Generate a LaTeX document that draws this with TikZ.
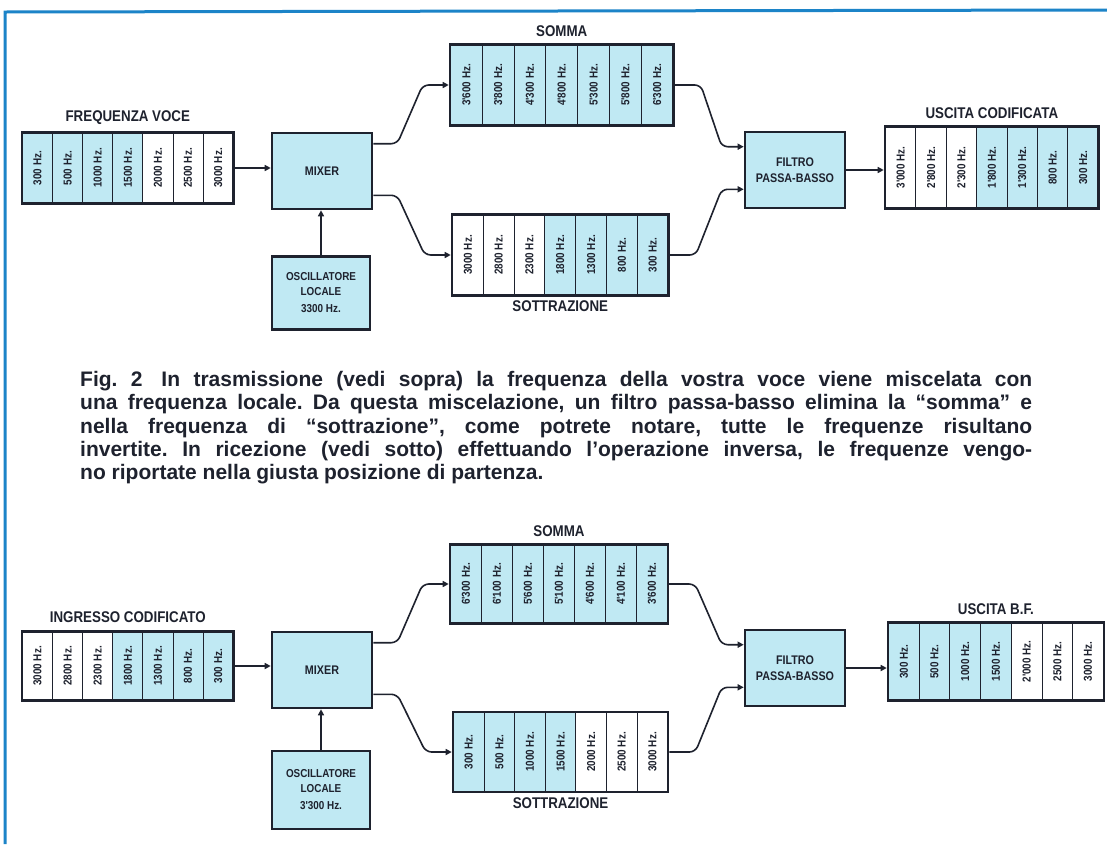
\documentclass[tikz,border=0pt]{standalone}
\usepackage{fontspec}
\setmainfont{Liberation Sans}
\newfontfamily\narrowfont{Liberation Sans}[FakeStretch=0.86]
\usetikzlibrary{positioning,fit,arrows.meta}

\definecolor{cellblue}{RGB}{192,233,243}
\definecolor{inkcol}{RGB}{30,34,46}
\definecolor{framecol}{RGB}{28,132,200}

\tikzset{
  cell/.style={draw=inkcol, line width=0.9pt, inner sep=0pt, anchor=west, text=inkcol,
    font=\narrowfont\bfseries\fontsize{11.5}{12}\selectfont},
  frame/.style={draw=inkcol, line width=2.6pt, inner sep=0pt},
  title/.style={inner sep=0pt, text=inkcol, font=\narrowfont\bfseries\fontsize{15.5}{16}\selectfont},
  box/.style={draw=inkcol, line width=2.6pt, fill=cellblue, align=center, inner sep=0pt, text=inkcol,
    minimum width=100pt, minimum height=76pt, font=\narrowfont\bfseries\fontsize{12.5}{16}\selectfont},
  conn/.style={draw=inkcol, line width=1.6pt, rounded corners=6pt, -{Triangle[length=6pt,width=6pt]}},
  caption/.style={inner sep=0pt, text width=952pt, align=justify, text=inkcol,
    font=\frenchspacing\bfseries\fontsize{21}{23.3}\selectfont}
}

\begin{document}
\begin{tikzpicture}[x=1pt,y=-1pt]
\useasboundingbox (0,0) rectangle (1107,844);
\fill[white] (0,0) rectangle (1107,844);
\draw[framecol, line width=3pt] (5,844) -- (5,12) -- (1107,10);

% trasmissione
\begin{scope}
  \foreach \f/\c [count=\i] in {300 Hz./cellblue, 500 Hz./cellblue, 1000 Hz./cellblue, 1500 Hz./cellblue,
      2000 Hz./white, 2500 Hz./white, 3000 Hz./white}
    \node[cell, fill=\c, minimum width=30.1pt, minimum height=70pt] (tin\i) at ({22+(\i-1)*30.1},168) {\rotatebox{90}{\f}};
  \node[frame, fit=(tin1)(tin7)] (tin) {};
  \node[title, above=7pt of tin] {FREQUENZA VOCE};

  \node[box] (tmix) at (322,171) {MIXER};
  \node[box, minimum width=98pt, minimum height=73pt, font=\narrowfont\bfseries\fontsize{11.5}{15}\selectfont] (tosc) at (321,293) {OSCILLATORE\\LOCALE\\[2pt]3300 Hz.};

  \foreach \f [count=\i] in {3'600 Hz., 3'800 Hz., 4'300 Hz., 4'800 Hz., 5'300 Hz., 5'800 Hz., 6'300 Hz.}
    \node[cell, fill=cellblue, minimum width=31.8pt, minimum height=80pt] (tsom\i) at ({450+(\i-1)*31.8},85) {\rotatebox{90}{\f}};
  \node[frame, fit=(tsom1)(tsom7)] (tsom) {};
  \node[title, above=6pt of tsom] {SOMMA};

  \foreach \f/\c [count=\i] in {3000 Hz./white, 2800 Hz./white, 2300 Hz./white, 1800 Hz./cellblue,
      1300 Hz./cellblue, 800 Hz./cellblue, 300 Hz./cellblue}
    \node[cell, fill=\c, minimum width=30.8pt, minimum height=80pt] (tsot\i) at ({452+(\i-1)*30.8},255) {\rotatebox{90}{\f}};
  \node[frame, fit=(tsot1)(tsot7)] (tsot) {};
  \node[title, below=4pt of tsot] {SOTTRAZIONE};

  \node[box] (tfil) at (795,170) {FILTRO\\PASSA-BASSO};

  \foreach \f/\c [count=\i] in {3'000 Hz./white, 2'800 Hz./white, 2'300 Hz./white, 1'800 Hz./cellblue,
      1'300 Hz./cellblue, 800 Hz./cellblue, 300 Hz./cellblue}
    \node[cell, fill=\c, minimum width=30.4pt, minimum height=81pt] (tout\i) at ({885+(\i-1)*30.4},167.5) {\rotatebox{90}{\f}};
  \node[frame, fit=(tout1)(tout7)] (tout) {};
  \node[title, above=6pt of tout] {USCITA CODIFICATA};

  \draw[conn] (tin.east) -- (tin.east -| tmix.west);
  \draw[conn] (tosc.north) -- (tosc.north |- tmix.south);
  \draw[conn] ([yshift=-12pt]tmix.north east) -- ++(24,0) -- ([xshift=-26pt]tsom.west) -- (tsom.west);
  \draw[conn] ([yshift=15pt]tmix.south east) -- ++(24,0) -- ([xshift=-26pt]tsot.west) -- (tsot.west);
  \draw[conn] (tsom.east) -- ++(26,0) -- ([xshift=-22pt,yshift=-16pt]tfil.north west) -- ([yshift=-16pt]tfil.north west);
  \draw[conn] (tsot.east) -- ++(26,0) -- ([xshift=-22pt,yshift=20pt]tfil.south west) -- ([yshift=20pt]tfil.south west);
  \draw[conn] (tfil.east) -- (tfil.east -| tout.west);
\end{scope}

\node[caption, anchor=north west] (cap) at (80,371) {Fig. 2\hspace{0.9em}In trasmissione (vedi sopra) la frequenza della vostra voce viene miscelata con\linebreak
una frequenza locale. Da questa miscelazione, un filtro passa-basso elimina la “somma” e\linebreak
nella frequenza di “sottrazione”, come potrete notare, tutte le frequenze risultano\linebreak
invertite. In ricezione (vedi sotto) effettuando l’operazione inversa, le frequenze vengo-\linebreak
no riportate nella giusta posizione di partenza.};

% ricezione
\begin{scope}
  \foreach \f/\c [count=\i] in {3000 Hz./white, 2800 Hz./white, 2300 Hz./white, 1800 Hz./cellblue,
      1300 Hz./cellblue, 800 Hz./cellblue, 300 Hz./cellblue}
    \node[cell, fill=\c, minimum width=30.1pt, minimum height=68pt] (bin\i) at ({22+(\i-1)*30.1},666) {\rotatebox{90}{\f}};
  \node[frame, fit=(bin1)(bin7)] (bin) {};
  \node[title, above=7pt of bin] {INGRESSO CODIFICATO};

  \node[box] (bmix) at (322,670) {MIXER};
  \node[box, minimum width=98pt, minimum height=78pt, font=\narrowfont\bfseries\fontsize{11.5}{15}\selectfont] (bosc) at (321,790) {OSCILLATORE\\LOCALE\\[2pt]3'300 Hz.};

  \foreach \f [count=\i] in {6'300 Hz., 6'100 Hz., 5'600 Hz., 5'100 Hz., 4'600 Hz., 4'100 Hz., 3'600 Hz.}
    \node[cell, fill=cellblue, minimum width=31pt, minimum height=78pt] (bsom\i) at ({450+(\i-1)*31},584) {\rotatebox{90}{\f}};
  \node[frame, fit=(bsom1)(bsom7)] (bsom) {};
  \node[title, above=6pt of bsom] {SOMMA};

  \foreach \f/\c [count=\i] in {300 Hz./cellblue, 500 Hz./cellblue, 1000 Hz./cellblue, 1500 Hz./cellblue,
      2000 Hz./white, 2500 Hz./white, 3000 Hz./white}
    \node[cell, fill=\c, minimum width=30.6pt, minimum height=79pt] (bsot\i) at ({453+(\i-1)*30.6},752) {\rotatebox{90}{\f}};
  \node[frame, fit=(bsot1)(bsot7)] (bsot) {};
  \node[title, below=4pt of bsot] {SOTTRAZIONE};

  \node[box] (bfil) at (795,668) {FILTRO\\PASSA-BASSO};

  \foreach \f/\c [count=\i] in {300 Hz./cellblue, 500 Hz./cellblue, 1000 Hz./cellblue, 1500 Hz./cellblue,
      2'000 Hz./white, 2500 Hz./white, 3000 Hz./white}
    \node[cell, fill=\c, minimum width=30.7pt, minimum height=77pt] (bout\i) at ({888+(\i-1)*30.7},661.5) {\rotatebox{90}{\f}};
  \node[frame, fit=(bout1)(bout7)] (bout) {};
  \node[title, above=6pt of bout] {USCITA B.F.};

  \draw[conn] (bin.east) -- (bin.east -| bmix.west);
  \draw[conn] (bosc.north) -- (bosc.north |- bmix.south);
  \draw[conn] ([yshift=-12pt]bmix.north east) -- ++(24,0) -- ([xshift=-26pt]bsom.west) -- (bsom.west);
  \draw[conn] ([yshift=15pt]bmix.south east) -- ++(24,0) -- ([xshift=-26pt]bsot.west) -- (bsot.west);
  \draw[conn] (bsom.east) -- ++(26,0) -- ([xshift=-22pt,yshift=-16pt]bfil.north west) -- ([yshift=-16pt]bfil.north west);
  \draw[conn] (bsot.east) -- ++(26,0) -- ([xshift=-22pt,yshift=20pt]bfil.south west) -- ([yshift=20pt]bfil.south west);
  \draw[conn] (bfil.east) -- (bfil.east -| bout.west);
\end{scope}
\end{tikzpicture}
\end{document}
